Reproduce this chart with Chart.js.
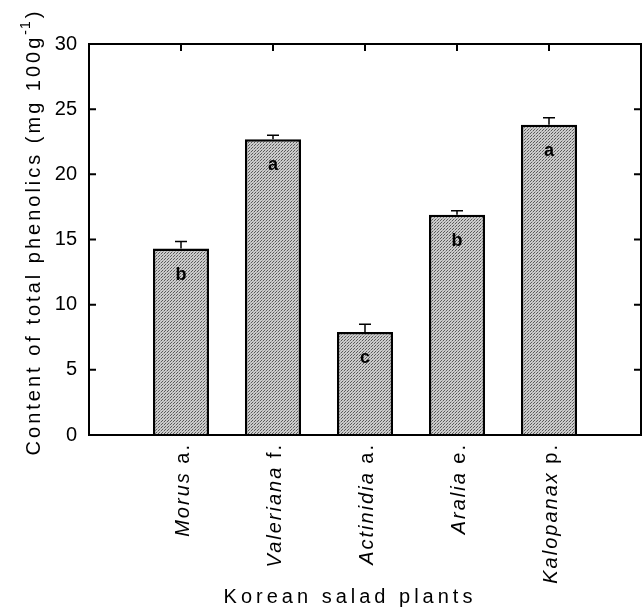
<!DOCTYPE html>
<html>
<head>
<meta charset="utf-8">
<script src="https://cdn.jsdelivr.net/npm/chart.js@4.4.1/dist/chart.umd.min.js"></script>
<style>
  body { margin: 0; background: #fff; }
  #wrap { width: 642px; height: 607px; }
</style>
</head>
<body>
<div id="wrap"><canvas id="chart" width="642" height="607"></canvas></div>
<script>
// Data
const genusNames = ['Morus', 'Valeriana', 'Actinidia', 'Aralia', 'Kalopanax'];
const speciesAbbr = ['a.', 'f.', 'a.', 'e.', 'p.'];
const categories = genusNames.map((g, i) => g + ' ' + speciesAbbr[i]);
const phenolics = [14.3, 22.7, 7.9, 16.9, 23.8];
const errors = [0.55, 0.3, 0.6, 0.3, 0.55];
const letters = ['b', 'a', 'c', 'b', 'a'];
const yTicks = [0, 5, 10, 15, 20, 25, 30];

const FONT = '"Liberation Sans", Arial, sans-serif';

// empty slots at both ends so the bars sit one category in from the frame
const labels = [''].concat(categories, ['']);
const values = [null].concat(phenolics, [null]);

// stippled grey fill like the printed figure
function makePattern() {
    const c = document.createElement('canvas');
    c.width = 3; c.height = 3;
    const p = c.getContext('2d');
    p.fillStyle = '#cdcdcd';
    p.fillRect(0, 0, 3, 3);
    p.fillStyle = '#5a5a5a';
    p.fillRect(0, 0, 1, 1);
    p.fillRect(2, 1, 1, 1);
    p.fillStyle = '#a0a0a0';
    p.fillRect(1, 2, 1, 1);
    return p.createPattern(c, 'repeat');
}

// measure text with letter spacing
function spacedWidth(ctx, text, font, spacing) {
    ctx.font = font;
    ctx.letterSpacing = spacing + 'px';
    return ctx.measureText(text).width;
}

const decorations = {
    id: 'decorations',
    afterDatasetsDraw(chart) {
        const ctx = chart.ctx;
        const area = chart.chartArea;
        const xs = chart.scales.x;
        const ys = chart.scales.y;
        ctx.save();
        ctx.strokeStyle = '#000';
        ctx.fillStyle = '#000';

        // frame
        ctx.lineWidth = 2;
        ctx.strokeRect(area.left, area.top, area.right - area.left, area.bottom - area.top);

        // inward ticks on left and right
        yTicks.forEach(function(v) {
            if (v === 0 || v === 30) return;
            const py = ys.getPixelForValue(v);
            ctx.beginPath();
            ctx.moveTo(area.left, py); ctx.lineTo(area.left + 7, py);
            ctx.moveTo(area.right, py); ctx.lineTo(area.right - 7, py);
            ctx.stroke();
        });

        // ticks along the top at each bar
        categories.forEach(function(c, i) {
            const px = xs.getPixelForValue(i + 1);
            ctx.beginPath();
            ctx.moveTo(px, area.top); ctx.lineTo(px, area.top + 7);
            ctx.stroke();
        });

        // error bars and letters
        phenolics.forEach(function(v, i) {
            const px = xs.getPixelForValue(i + 1);
            const top = ys.getPixelForValue(v);
            const tip = ys.getPixelForValue(v + errors[i]);
            ctx.lineWidth = 1.5;
            ctx.beginPath();
            ctx.moveTo(px, top); ctx.lineTo(px, tip);
            ctx.moveTo(px - 6, tip); ctx.lineTo(px + 6, tip);
            ctx.stroke();

            ctx.font = 'bold 18px ' + FONT;
            ctx.letterSpacing = '0px';
            ctx.textAlign = 'center';
            ctx.textBaseline = 'middle';
            ctx.fillText(letters[i], px, top + 26);
        });

        // rotated category labels, genus in italics
        const italicFont = 'italic 20px ' + FONT;
        const plainFont = '20px ' + FONT;
        categories.forEach(function(c, i) {
            const px = xs.getPixelForValue(i + 1);
            ctx.save();
            ctx.translate(px + 2, area.bottom + 8);
            ctx.rotate(-Math.PI / 2);
            ctx.textBaseline = 'middle';
            ctx.textAlign = 'left';
            const wRest = spacedWidth(ctx, ' ' + speciesAbbr[i], plainFont, 2);
            const wGenus = spacedWidth(ctx, genusNames[i], italicFont, 2);
            ctx.font = italicFont;
            ctx.letterSpacing = '2px';
            ctx.fillText(genusNames[i], -wRest - wGenus, 0);
            ctx.font = plainFont;
            ctx.fillText(' ' + speciesAbbr[i], -wRest, 0);
            ctx.restore();
        });

        // x axis title
        ctx.font = '20px ' + FONT;
        ctx.letterSpacing = '4px';
        ctx.textAlign = 'center';
        ctx.textBaseline = 'middle';
        ctx.fillText('Korean salad plants', 350, 597);

        // y axis title with superscript
        ctx.save();
        ctx.translate(34, 233);
        ctx.rotate(-Math.PI / 2);
        ctx.textAlign = 'left';
        ctx.textBaseline = 'middle';
        const mainFont = '20px ' + FONT;
        const supFont = '14px ' + FONT;
        const mainText = 'Content of total phenolics (mg 100g';
        const w1 = spacedWidth(ctx, mainText, mainFont, 3);
        const w2 = spacedWidth(ctx, '-1', supFont, 1);
        const w3 = spacedWidth(ctx, ')', mainFont, 3);
        let start = -(w1 + w2 + w3) / 2;
        ctx.font = mainFont; ctx.letterSpacing = '3px';
        ctx.fillText(mainText, start, 0);
        ctx.font = supFont; ctx.letterSpacing = '1px';
        ctx.fillText('-1', start + w1, -8);
        ctx.font = mainFont; ctx.letterSpacing = '3px';
        ctx.fillText(')', start + w1 + w2 + 2, 0);
        ctx.restore();

        ctx.restore();
    }
};

const ctx = document.getElementById('chart').getContext('2d');
const chart = new Chart(ctx, {
    type: 'bar',
    data: {
        labels: labels,
        datasets: [{
            data: values,
            backgroundColor: makePattern(),
            borderColor: '#000',
            borderWidth: 2.5,
            categoryPercentage: 1,
            barPercentage: 0.61
        }]
    },
    options: {
        responsive: false,
        animation: false,
        layout: { padding: { top: 44, right: 1, left: 0, bottom: 0 } },
        plugins: {
            legend: { display: false },
            tooltip: { enabled: false }
        },
        scales: {
            x: {
                type: 'category',
                offset: false,
                grid: { display: false, drawTicks: false },
                border: { display: false },
                ticks: { display: false },
                afterFit: function(scale) { scale.height = 172; }
            },
            y: {
                min: 0,
                max: 30,
                grid: { display: false, drawTicks: false },
                border: { display: false },
                afterBuildTicks: function(scale) {
                    scale.ticks = yTicks.map(v => ({ value: v }));
                },
                ticks: {
                    color: '#000',
                    padding: 12,
                    font: { family: FONT, size: 20 }
                },
                afterFit: function(scale) { scale.width = 89; }
            }
        }
    },
    plugins: [decorations]
});
</script>
</body>
</html>
